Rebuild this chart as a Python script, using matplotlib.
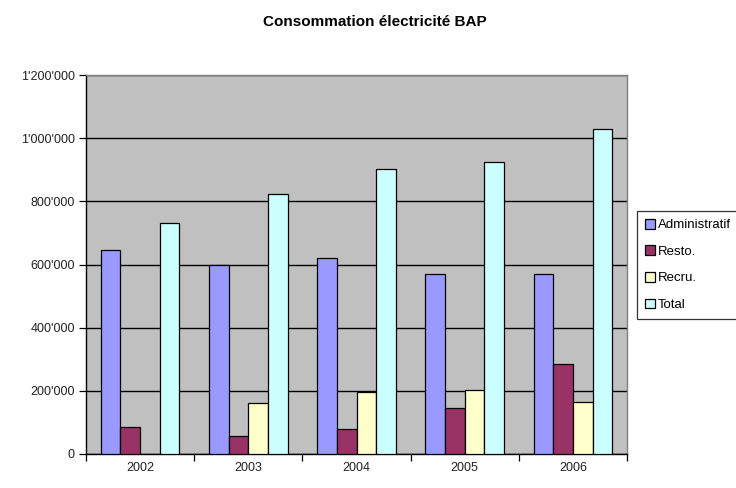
import matplotlib
matplotlib.use("Agg")
import matplotlib.pyplot as plt
import numpy as np
from matplotlib.ticker import FuncFormatter, FixedLocator

plt.rcParams['font.family'] = ['Liberation Sans', 'DejaVu Sans']

years = ["2002", "2003", "2004", "2005", "2006"]
series_names = ["Administratif", "Resto.", "Recru.", "Total"]
administratif = [645000, 600000, 619000, 571000, 571000]
resto = [84000, 56000, 80000, 146000, 286000]
recru = [0, 163000, 195000, 203000, 166000]
total = [731000, 822000, 902000, 924000, 1030000]
colors = ["#9999FF", "#993366", "#FFFFCC", "#CCFFFF"]
y_ticks = [0, 200000, 400000, 600000, 800000, 1000000, 1200000]


def swiss(v, _pos=None):
    v = int(round(v))
    if v == 0:
        return "0"
    return f"{v:,}".replace(",", "'")


fig = plt.figure(figsize=(7.36, 4.88), dpi=100)
ax = fig.add_axes([86 / 736, 1 - 454 / 488, (627 - 86) / 736, (454 - 75) / 488])
ax.set_facecolor("#C0C0C0")

x = np.arange(len(years))
bw = 1 / 5.5
for i, (vals, col) in enumerate(zip([administratif, resto, recru, total], colors)):
    edge_w = [0.9 if v > 0 else 0 for v in vals]
    ax.bar(x + (i - 1.5) * bw, vals, width=bw, color=col,
           edgecolor="black", linewidth=edge_w, zorder=3)

ax.set_xlim(-0.5, len(years) - 0.5)
ax.set_ylim(0, 1200000)
ax.yaxis.set_major_locator(FixedLocator(y_ticks))
ax.yaxis.set_major_formatter(FuncFormatter(swiss))
ax.grid(axis="y", color="black", linewidth=1.0, zorder=1)
ax.set_axisbelow(True)

ax.set_xticks(x)
ax.set_xticklabels(years)
ax.set_xticks(np.arange(-0.5, len(years), 1.0), minor=True)
ax.tick_params(axis="x", which="major", length=0, pad=6, labelsize=9, colors="#222222")
ax.tick_params(axis="x", which="minor", length=5, direction="out", width=0.9)
ax.tick_params(axis="y", length=5, direction="out", width=0.9, pad=3,
               labelsize=9, colors="black", labelcolor="#222222")

for side in ("left", "bottom"):
    ax.spines[side].set_color("black")
    ax.spines[side].set_linewidth(1.0)
for side in ("top", "right"):
    ax.spines[side].set_color("#808080")
    ax.spines[side].set_linewidth(1.0)

fig.text(375 / 736, 1 - 22 / 488, "Consommation électricité BAP",
         ha="center", va="center", fontsize=11, fontweight="bold")

# Legend keys as small outlined squares
legend_keys = [plt.Rectangle((0, 0), 1, 1, facecolor=c, edgecolor="black", linewidth=0.9)
               for c in colors]
leg = fig.legend(legend_keys, series_names, loc="upper left",
                 bbox_to_anchor=(637 / 736, 1 - 211 / 488),
                 fontsize=9.5, frameon=True, fancybox=False,
                 handlelength=0.75, handleheight=0.75, handletextpad=0.25,
                 labelspacing=1.07, borderpad=0.6, borderaxespad=0)
leg.get_frame().set_edgecolor("black")
leg.get_frame().set_linewidth(0.9)

fig.savefig("out.png", dpi=100, facecolor="white")
